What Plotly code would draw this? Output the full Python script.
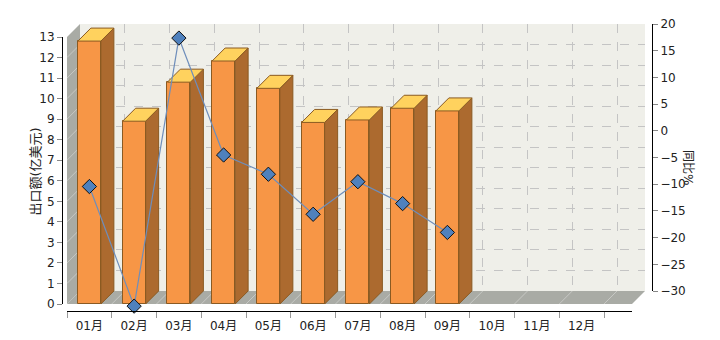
import plotly.graph_objects as go

# ---------------- data ----------------
months = ['01月', '02月', '03月', '04月', '05月', '06月', '07月', '08月', '09月', '10月', '11月', '12月']
export_values = [12.8, 8.9, 10.8, 11.83, 10.5, 8.84, 8.96, 9.53, 9.40]      # 出口额(亿美元)
yoy_values = [-8.0, -30.4, 19.8, -2.1, -5.7, -13.2, -7.1, -11.2, -16.6]     # 同比%
left_ticks = list(range(0, 14))
right_ticks = list(range(-30, 21, 5))

# ---------------- geometry ----------------
W, H = 720, 340
def fx(p):
    return p / W
def fy(p):
    return (H - p) / H

CAT_PX = 44.75          # pixels per category
VAL_PX = 20.54          # pixels per left-axis unit
PCT_PX = 5.34           # pixels per percent unit
DEPTH = 13              # 3D depth in pixels
DX = DEPTH / CAT_PX
DY = DEPTH / VAL_PX
BAR_W = 23 / CAT_PX
X_END_FRONT = -0.5 + (632 - 67) / CAT_PX
X_END_BACK = -0.5 + (645 - 67) / CAT_PX
SCENE_BOTTOM_PX = 316
Y_TOP = (304 - 24) / VAL_PX
Y_BOT = -(SCENE_BOTTOM_PX - 304) / VAL_PX
P_BOT = right_ticks[0] - (SCENE_BOTTOM_PX - 304) / PCT_PX
P_TOP = right_ticks[0] + (304 - 24) / PCT_PX

FRONT = '#F79646'
SIDE = '#AC6A2F'
TOP = '#FFD25E'
EDGE = '#8A5A22'
WALL = '#A9ABA5'
BACK = '#EFEFE9'
FONT = 'DejaVu Sans, Noto Sans CJK SC, sans-serif'

fig = go.Figure()

# subplot xy: back wall grid (drawn first)
fig.add_trace(go.Scatter(x=[None], y=[None], xaxis='x', yaxis='y', showlegend=False, hoverinfo='skip'))
fig.add_trace(go.Scatter(x=[None], y=[None], xaxis='x', yaxis='y3', showlegend=False, hoverinfo='skip'))

# subplot x2y2: the 3D scene
shapes = [dict(type='rect', xref='x domain', yref='y domain', x0=0, x1=1, y0=0, y1=1,
               fillcolor=BACK, line=dict(width=0), layer='below')]

def path(xs, ys):
    return 'M ' + ' L '.join(f'{a},{b}' for a, b in zip(xs, ys)) + ' Z'

shapes.append(dict(type='path', xref='x2', yref='y2', layer='below', fillcolor=WALL, line=dict(width=0),
                   path=path([-0.5, X_END_FRONT, X_END_FRONT + DX, -0.5 + DX], [0, 0, DY, DY])))
shapes.append(dict(type='path', xref='x2', yref='y2', layer='below', fillcolor=WALL, line=dict(width=0),
                   path=path([-0.5, -0.5, -0.5 + DX, -0.5 + DX],
                             [0, left_ticks[-1], left_ticks[-1] + DY, DY])))
for v in left_ticks[1:-1]:
    shapes.append(dict(type='line', xref='x2', yref='y2', layer='below',
                       x0=-0.5, y0=v, x1=-0.5 + DX, y1=v + DY,
                       line=dict(color='rgba(255,255,255,0.35)', width=1)))
for i in range(len(months)):
    b = i + 0.5
    shapes.append(dict(type='line', xref='x2', yref='y2', layer='below',
                       x0=b, y0=0, x1=b + DX, y1=DY,
                       line=dict(color='rgba(255,255,255,0.35)', width=1)))

# bar front faces
fig.add_trace(go.Bar(x=list(range(len(export_values))), y=export_values, width=BAR_W,
                     xaxis='x2', yaxis='y2', marker=dict(color=FRONT, line=dict(color=EDGE, width=1)),
                     showlegend=False, name='出口额'))
# bar side and top faces
sx, sy, tx, ty = [], [], [], []
for i, v in enumerate(export_values):
    xl, xr = i - BAR_W / 2, i + BAR_W / 2
    sx += [xr, xr + DX, xr + DX, xr, xr, None]
    sy += [0, DY, v + DY, v, 0, None]
    tx += [xl, xr, xr + DX, xl + DX, xl, None]
    ty += [v, v, v + DY, v + DY, v, None]
fig.add_trace(go.Scatter(x=sx, y=sy, xaxis='x2', yaxis='y2', mode='lines', fill='toself',
                         fillcolor=SIDE, line=dict(color=EDGE, width=1), showlegend=False, hoverinfo='skip'))
fig.add_trace(go.Scatter(x=tx, y=ty, xaxis='x2', yaxis='y2', mode='lines', fill='toself',
                         fillcolor=TOP, line=dict(color=EDGE, width=1), showlegend=False, hoverinfo='skip'))
# yoy line
fig.add_trace(go.Scatter(x=list(range(len(yoy_values))), y=yoy_values, xaxis='x2', yaxis='y4',
                         mode='lines+markers', line=dict(color='#6E8EBB', width=1.2),
                         marker=dict(symbol='diamond', size=11, color='#4F81BD',
                                     line=dict(color='#111111', width=1)),
                         cliponaxis=False, showlegend=False, name='同比%'))

# subplot x3y5: visible front axes
fig.add_trace(go.Scatter(x=[None], y=[None], xaxis='x3', yaxis='y5', showlegend=False, hoverinfo='skip'))

grid = dict(showgrid=True, gridcolor='#C4C4C4', griddash='dash', gridwidth=1)
tickfont = dict(family=FONT, size=12, color='#222222')

fig.update_layout(
    width=W, height=H,
    margin=dict(l=0, r=0, t=0, b=0, pad=0, autoexpand=False),
    paper_bgcolor='white', plot_bgcolor='rgba(0,0,0,0)',
    bargap=0,
    # back wall
    xaxis=dict(domain=[fx(80), fx(645)], range=[-0.5, X_END_FRONT], anchor='y', automargin=False,
               tickmode='array', tickvals=[i + 0.5 for i in range(len(months))],
               showticklabels=False, ticks='', showline=False, zeroline=False, **grid),
    yaxis=dict(domain=[fy(291), fy(24)], range=[0, left_ticks[-1]], anchor='x', automargin=False,
               tickmode='array', tickvals=left_ticks, showticklabels=False, ticks='',
               showline=False, zeroline=False, **grid),
    yaxis3=dict(overlaying='y', side='right', anchor='free', position=fx(652), automargin=False,
                range=[right_ticks[0], right_ticks[-1]], tickmode='array', tickvals=right_ticks,
                ticks='outside', ticklen=5, tickcolor='#888888', showline=True, linecolor='black',
                linewidth=1, showgrid=False, zeroline=False, tickfont=tickfont),
    # scene
    xaxis2=dict(domain=[fx(67), fx(645)], range=[-0.5, X_END_BACK], anchor='y2', visible=False,
                automargin=False),
    yaxis2=dict(domain=[fy(SCENE_BOTTOM_PX), fy(24)], range=[Y_BOT, Y_TOP], anchor='x2', visible=False,
                automargin=False),
    yaxis4=dict(overlaying='y2', range=[P_BOT, P_TOP], visible=False, automargin=False),
    # visible front axes
    xaxis3=dict(domain=[fx(67), fx(632)], range=[-0.5, X_END_FRONT], anchor='free', position=fy(311),
                automargin=False,
                tickmode='array', tickvals=list(range(len(months))), ticktext=months,
                ticks='', showline=True, linecolor='black', linewidth=1, showgrid=False,
                zeroline=False, tickfont=tickfont, ticklabelstandoff=4,
                minor=dict(tickmode='array', tickvals=[i - 0.5 for i in range(len(months) + 1)],
                           ticks='outside', ticklen=6, tickcolor='#999999', showgrid=False)),
    yaxis5=dict(domain=[fy(304), fy(37)], range=[0, left_ticks[-1]], anchor='free', position=fx(62),
                automargin=False,
                tickmode='array', tickvals=left_ticks, ticks='outside', ticklen=5,
                tickcolor='#888888', showline=True, linecolor='black', linewidth=1,
                showgrid=False, zeroline=False, tickfont=tickfont),
    annotations=[
        dict(text='出口额(亿美元)', xref='paper', yref='paper', x=fx(25), y=fy(172),
             textangle=-90, showarrow=False, font=dict(family=FONT, size=13, color='#222222')),
        dict(text='同比%', xref='paper', yref='paper', x=fx(697), y=fy(167),
             textangle=90, showarrow=False, font=dict(family=FONT, size=12, color='#222222')),
    ],
    shapes=shapes,
)

fig.write_html('out.html')
